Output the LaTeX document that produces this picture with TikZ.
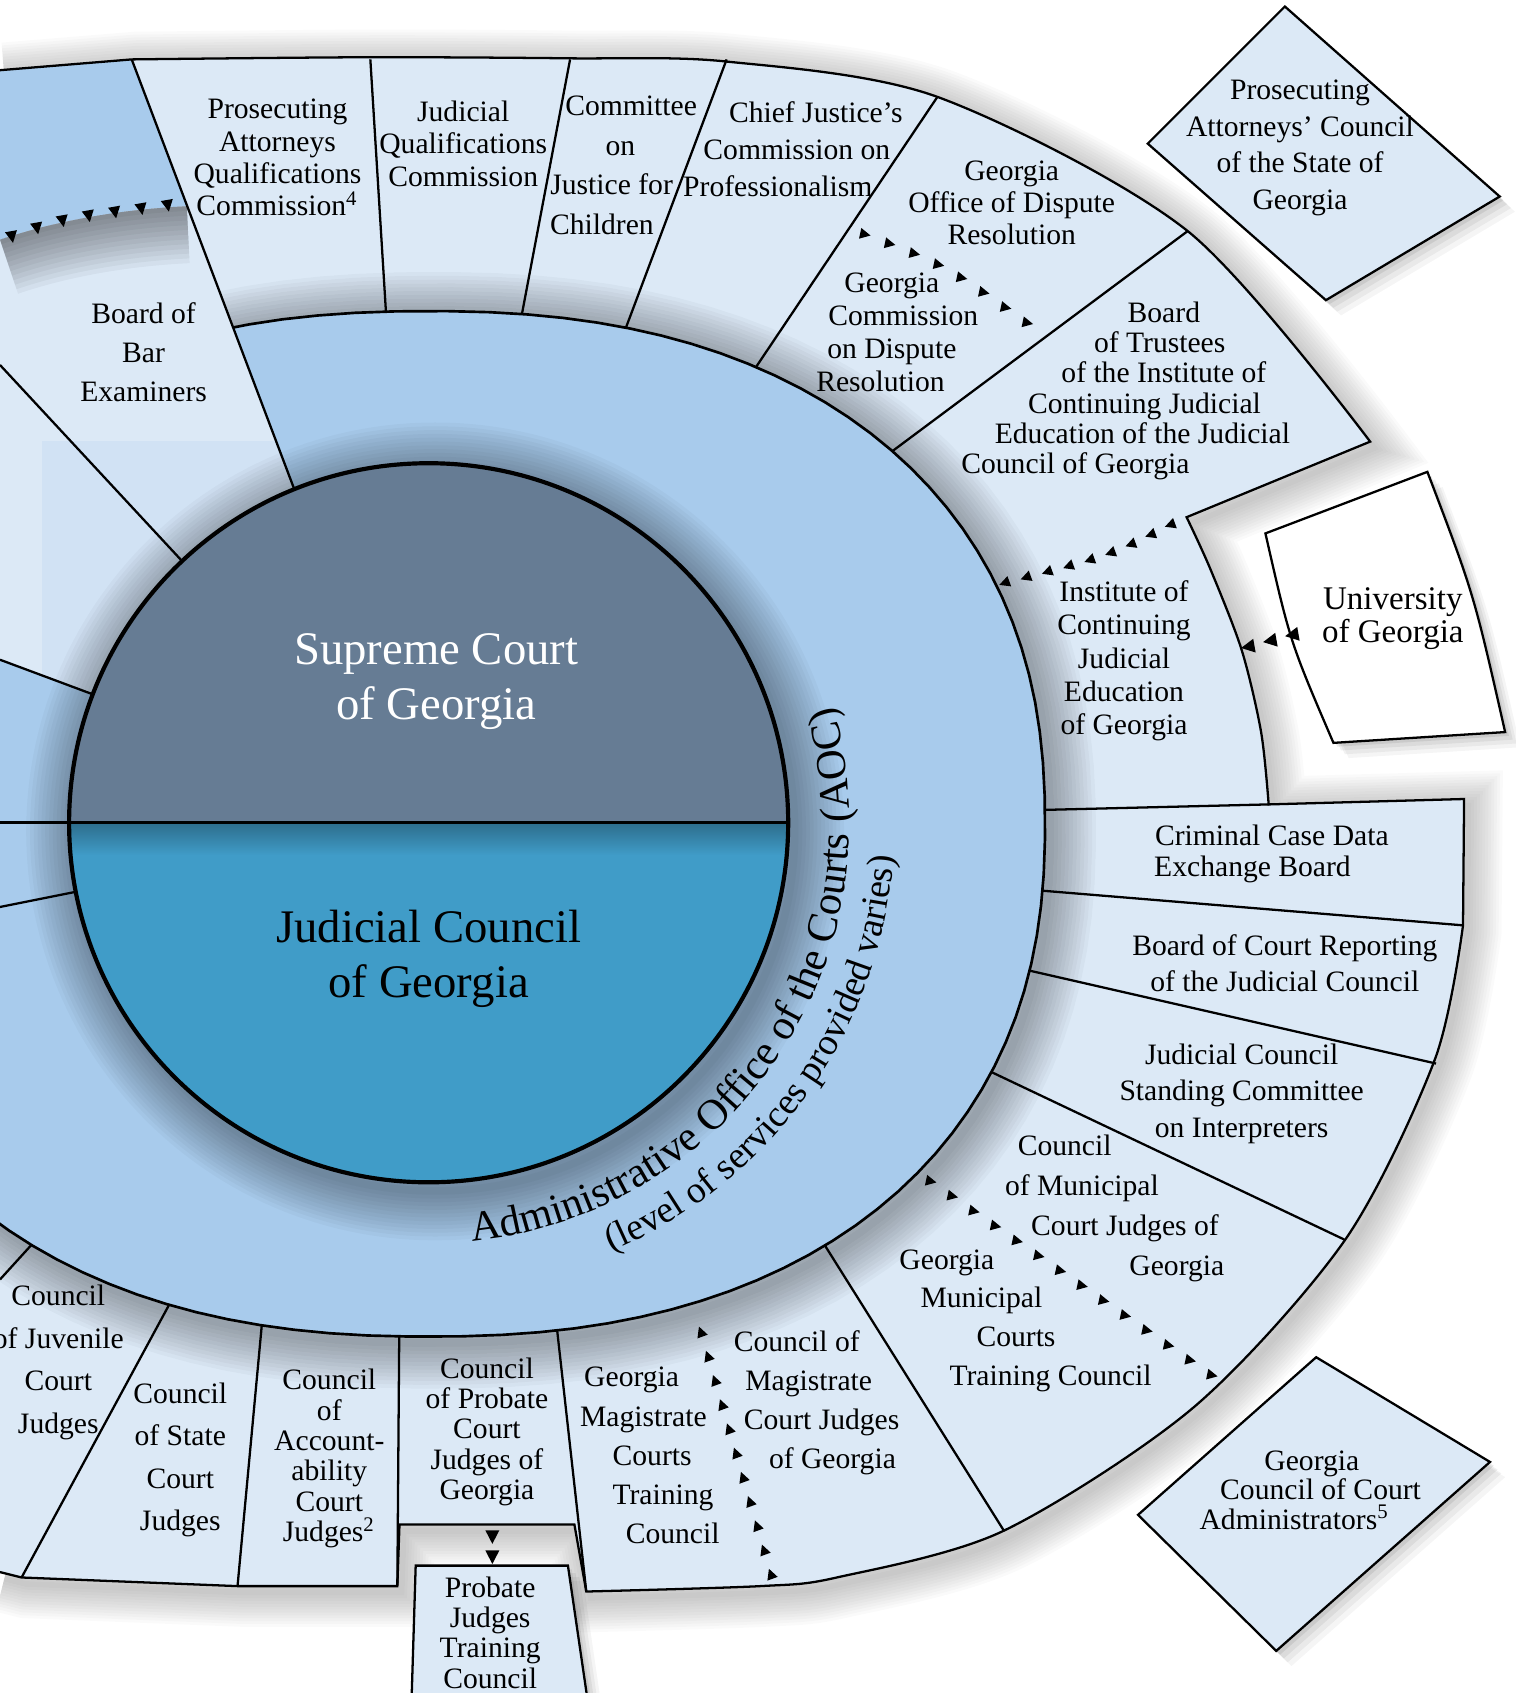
\documentclass[tikz,border=0pt]{standalone}
\usepackage{fontspec}
\setmainfont{Liberation Serif}
\usetikzlibrary{
  decorations.markings,
  decorations.text,
  shadows
}

\definecolor{segfill}{HTML}{DCE9F6}
\definecolor{aocfill}{HTML}{A8CBEC}
\definecolor{supfill}{HTML}{667C94}
\definecolor{jcfill}{HTML}{409CC8}

% shifted line inside a centred label
\newcommand\sh[2]{\makebox[0pt]{\hspace*{#1}#2}}

% outline of the AOC band
\newcommand\aocpath{plot[domain=1:361, samples=121, variable=\ang]
  ({397+571*cos(\ang)/abs(cos(\ang))^0.1304}, {763+475*sin(\ang)/abs(sin(\ang))^0.1304}) -- cycle}

% outer rim of the boards and councils
\newcommand\outerrim{(0,65)
  -- plot[smooth] coordinates {(122,55) (340,53) (527,54) (673,57) (869,90) (1100,214) (1269,409)}
  -- (1099,479)
  -- plot[smooth] coordinates {(1099,479) (1121,527) (1150,602) (1168,678) (1175,745)}
  -- (1356,740) -- (1355,857)
  -- plot[smooth] coordinates {(1355,857) (1329,981) (1246,1148) (1106,1303) (929,1418) (775,1461) (704,1469) (543,1474)}
  -- (532,1412) -- (370,1412) -- (368,1469) -- (220,1469) -- (20,1461) -- (0,1456)}

% the curve under the cut-off board at the top left
\newcommand\barcurve{(0,222) .. controls (50,205) and (110,194) .. (173,191)}

\tikzset{
  lbl/.style={font=\fontsize{7.8}{#1}\selectfont, align=center, inner sep=0pt},
  lbl/.default=8.5,
  sep/.style={line width=0.6pt},
  box/.style={draw, line width=0.6pt, fill=segfill},
  halo/.style={black, opacity=#1},
  softshadow/.style={
    drop shadow={shadow xshift=1pt, shadow yshift=-1pt, opacity=.08, fill=black},
    drop shadow={shadow xshift=2pt, shadow yshift=-2pt, opacity=.06, fill=black},
    drop shadow={shadow xshift=3pt, shadow yshift=-3pt, opacity=.05, fill=black},
    drop shadow={shadow xshift=4pt, shadow yshift=-4pt, opacity=.04, fill=black}},
  tris/.style n args={3}{decorate, decoration={markings,
    mark=between positions 0 and 1 step #1 with {\pgftransformresetnontranslations
      \fill[rotate=#2, scale=#3] (1.7pt,0pt) -- (-1.4pt,1.6pt) -- (-1.4pt,-1.6pt) -- cycle;}}}
}

\begin{document}
\begin{tikzpicture}[x=0.01cm, y=-0.01cm]
\useasboundingbox (0,0) rectangle (1404,1568);

% rim and its shadow
\foreach \w in {1.5,3,...,18}
  \draw[line width=\w pt, halo=.018, shift={(4,6)}] \outerrim;
\fill[segfill] \outerrim -- cycle;
\fill[aocfill] (0,65) -- (122,55) -- (173,191) .. controls (110,194) and (50,205) .. (0,222) -- cycle;

% AOC band
\foreach \w in {2,4,...,24}
  \draw[line width=\w pt, halo=.028, shift={(5,6)}] \aocpath;
\foreach \xa/\ya/\xb/\yb in {343/55/360/330, 528/55/476/330, 673/55/566/340, 868/90/680/370,
    1100/214/790/445, 1175/745/930/751, 1355/857/930/822, 1330/985/910/889,
    1245/1148/870/970, 930/1418/743/1120, 543/1474/513/1205, 368/1469/370/1205,
    220/1469/245/1200, 20/1461/172/1180, 0/1185/50/1130}
  \draw[sep] (\xa,\ya) -- (\xb,\yb);
\draw[sep] \outerrim;
\fill[aocfill] \aocpath;
\draw[line width=0.7pt] \aocpath;

% boards on the left reach the court itself
\fill[segfill] (173,191) -- (285,486) -- (200,560) -- (110,652) -- (0,611) -- \barcurve -- cycle;
\begin{scope}
  \clip (173,191) -- (285,486) -- (200,560) -- (110,652) -- (0,611) -- \barcurve -- cycle;
  \fill[segfill!78!aocfill] (39,408) rectangle (300,660);
  \foreach \w in {2.5,5,...,30}
    \draw[line width=\w pt, halo=.04] \barcurve;
\end{scope}
\draw[sep] (0,338) -- (195,548);
\draw[sep] (0,611) -- (110,652);
\draw[sep] (0,840) -- (95,821);
\draw[sep] (122,55) -- (285,486);

% Supreme Court and Judicial Council
\foreach \w in {2,4,...,26}
  \draw[line width=\w pt, halo=.028, shift={(6,8)}] (397,762) circle[radius=333];
\fill[supfill] (397,762) circle[radius=333];
\begin{scope}
  \clip (0,762) rectangle (760,1120);
  \clip (397,762) circle[radius=333];
  \fill[jcfill] (397,762) circle[radius=333];
  \shade[top color=jcfill!70!black, bottom color=jcfill] (50,762) rectangle (750,792);
\end{scope}
\draw[line width=0.8pt] (0,762) -- (730,762);
\draw[line width=1.1pt] (397,762) circle[radius=333];

\node[font=\fontsize{12.3}{14.5}\selectfont, align=center, text=white] (supreme) at (404,631) {Supreme Court\\of Georgia};
\node[font=\fontsize{12.3}{14.3}\selectfont, align=center] (judicial) at (397,888) {Judicial Council\\of Georgia};

\path[decorate, decoration={text along path, text align=center,
    text={|\fontsize{11.2}{13}\selectfont|Administrative Office of the Courts (AOC)}}]
  plot[domain=-109:41, samples=76, variable=\ang] ({397+390*cos(\ang)}, {762-390*sin(\ang)});
\path[decorate, decoration={text along path, text align=center,
    text={|\fontsize{9.9}{12}\selectfont|(level of services provided varies)}}]
  plot[domain=-110:39, samples=76, variable=\ang] ({397+432*cos(\ang)}, {762-432*sin(\ang)});

% labels in the rim
\node[lbl] (paqc) at (257,146) {Prosecuting\\Attorneys\\Qualifications\\Commission\textsuperscript{4}};
\node[lbl] (jqc) at (429,133) {Judicial\\Qualifications\\Commission};
\node[lbl=10.4] (cjc) at (571,153) {\sh{7.7pt}{Committee}\\\sh{2pt}{on}\\\sh{-2.6pt}{Justice for}\\\sh{-7.7pt}{Children}};
\node[lbl=9.7] (cjp) at (738,138) {\sh{10pt}{Chief Justice’s}\\Commission on\\\sh{-10pt}{Professionalism}};
\node[lbl] (godr) at (937,188) {Georgia\\Office of Dispute\\Resolution};
\node[lbl=8.7] (gcdr) at (826,308) {Georgia\\\sh{6pt}{Commission}\\on Dispute\\\sh{-6pt}{Resolution}};
\node[lbl=8] (bticje) at (1060,362) {\sh{10.2pt}{Board}\\\sh{8pt}{of Trustees}\\\sh{10.2pt}{of the Institute of}\\Continuing Judicial\\\sh{-1.1pt}{Education of the Judicial}\\\sh{-36.4pt}{Council of Georgia}};
\node[lbl=8.8] (icje) at (1041,612) {Institute of\\Continuing\\Judicial\\Education\\of Georgia};
\node[lbl=8] (ccdeb) at (1169,791) {\sh{5.1pt}{Criminal Case Data}\\\sh{-5.1pt}{Exchange Board}};
\node[lbl=9.4] (bcr) at (1190,892) {Board of Court Reporting\\of the Judicial Council};
\node[lbl=9.7] (jcsci) at (1150,1013) {Judicial Council\\Standing Committee\\on Interpreters};
\node[lbl=10.5] (cmcj) at (1030,1119) {\sh{-25pt}{Council}\\\sh{-15.9pt}{of Municipal}\\\sh{6.8pt}{Court Judges of}\\\sh{34.1pt}{Georgia}};
\node[lbl=10.2] (gmctc) at (925,1223) {\sh{-27.3pt}{Georgia}\\\sh{-9.1pt}{Municipal}\\\sh{9.1pt}{Courts}\\\sh{27.3pt}{Training Council}};
\node[lbl=10.3] (cmagcj) at (755,1299) {\sh{-9.7pt}{Council of}\\\sh{-3.4pt}{Magistrate}\\\sh{3.4pt}{Court Judges}\\\sh{9.1pt}{of Georgia}};
\node[lbl=10.3] (gmagctc) at (604,1348) {\sh{-10.8pt}{Georgia}\\\sh{-4.6pt}{Magistrate}\\Courts\\\sh{5.7pt}{Training}\\\sh{10.8pt}{Council}};
\node[lbl=8] (cpcj) at (451,1326) {Council\\of Probate\\Court\\Judges of\\Georgia};
\node[lbl=8] (cacj) at (305,1351) {Council\\of\\Account-\\ability\\Court\\Judges\textsuperscript{2}};
\node[lbl=11.2] (cscj) at (167,1352) {Council\\of State\\Court\\Judges};
\node[lbl=11.2] (cjcj) at (54,1262) {Council\\of Juvenile\\Court\\Judges};
\node[lbl=10.2] (bbe) at (133,326) {Board of\\Bar\\Examiners};

% boxes outside the rim
\draw[box, softshadow] (1063,133) -- (1190,6) -- (1389,182) -- (1228,278) -- cycle;
\draw[line width=0.6pt, fill=white, softshadow] (1172,494) -- (1322,437) .. controls (1365,550) .. (1394,678)
  -- (1235,688) .. controls (1195,595) .. (1172,494) -- cycle;
\draw[box, softshadow] (1054,1403) -- (1219,1257) -- (1380,1354) -- (1182,1529) -- cycle;
\draw[box, softshadow] (381,1580) -- (385,1450) -- (526,1450) -- (545,1580) -- cycle;

\node[lbl=9.6] (pac) at (1204,137) {Prosecuting\\Attorneys’ Council\\of the State of\\Georgia};
\node[font=\fontsize{8.7}{8.8}\selectfont, align=center, inner sep=0pt] (uga) at (1290,573) {University\\of Georgia};
\node[lbl=7.8] (gcca) at (1212,1380) {\sh{1.7pt}{Georgia}\\\sh{6.3pt}{Council of Court}\\\sh{-7.4pt}{Administrators\textsuperscript{5}}};
\node[lbl=8] (pjtc) at (454,1512) {Probate\\Judges\\Training\\Council};

% chains of arrowheads
\coordinate (bar-a) at (11,219);     \coordinate (bar-b) at (156,190);
\coordinate (odr-a) at (801,217);    \coordinate (odr-b) at (953,300);
\coordinate (ice-a) at (1084,486);   \coordinate (ice-b) at (930,540);
\coordinate (uga-a) at (1197,588);   \coordinate (uga-b) at (1156,599);
\coordinate (muni-a) at (862,1094);  \coordinate (muni-b) at (1123,1274);
\coordinate (mag-a) at (714,1458);   \coordinate (mag-b) at (649,1233);
\coordinate (pjtc-a) at (456,1423);  \coordinate (pjtc-b) at (456,1442);

\path[tris={7pt}{-80}{1}] (bar-a) .. controls (60,202) .. (bar-b);
\path[tris={7pt}{-12}{.9}] (odr-a) .. controls (875,245) .. (odr-b);
\path[tris={5.8pt}{200}{.9}] (ice-a) .. controls (1027,515) .. (ice-b);
\path[tris={6pt}{190}{1.15}] (uga-a) -- (uga-b);
\path[tris={6.92pt}{-12}{.9}] (muni-a) -- (muni-b);
\path[tris={6.64pt}{110}{.9}] (mag-a) -- (mag-b);
\path[tris={5.3pt}{-90}{1.15}] (pjtc-a) -- (pjtc-b);
\end{tikzpicture}
\end{document}
